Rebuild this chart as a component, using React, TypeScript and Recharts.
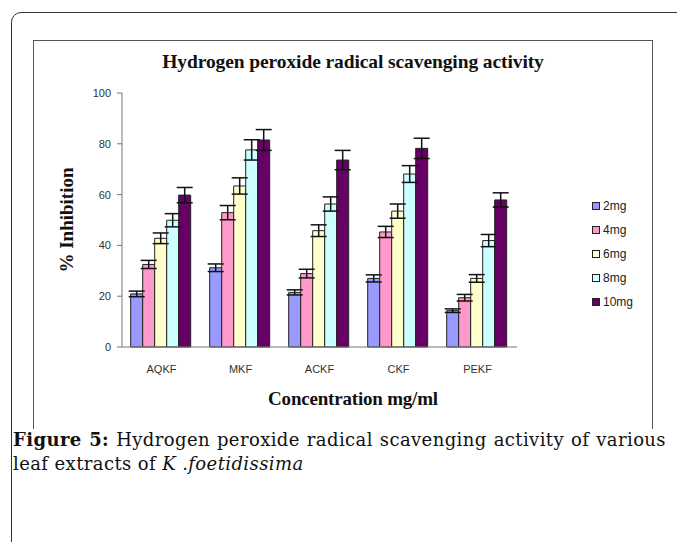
import React from 'react';
import { BarChart, Bar, XAxis, YAxis, ErrorBar, Legend } from 'recharts';

const categories = ['AQKF', 'MKF', 'ACKF', 'CKF', 'PEKF'];
const seriesNames = ['2mg', '4mg', '6mg', '8mg', '10mg'];
const seriesColors = ['#9999FF', '#FF99CC', '#FFFFCC', '#CCFFFF', '#660066'];

const values2mg = [20.9, 31.2, 21.5, 27.0, 14.3];
const values4mg = [32.5, 52.9, 28.9, 45.3, 19.4];
const values6mg = [42.8, 63.4, 45.8, 53.5, 27.0];
const values8mg = [49.9, 77.6, 56.3, 68.1, 41.9];
const values10mg = [59.8, 81.5, 73.6, 78.2, 57.9];

const errors2mg = [1.1, 1.5, 1.0, 1.4, 0.7];
const errors4mg = [1.6, 2.8, 1.7, 2.2, 1.3];
const errors6mg = [2.1, 3.2, 2.3, 2.8, 1.5];
const errors8mg = [2.6, 4.0, 2.8, 3.3, 2.4];
const errors10mg = [3.0, 4.1, 3.8, 4.0, 2.8];

const yTicks = [0, 20, 40, 60, 80, 100];

const allValues = [values2mg, values4mg, values6mg, values8mg, values10mg];
const allErrors = [errors2mg, errors4mg, errors6mg, errors8mg, errors10mg];

const data = categories.map((c, i) => {
  const row: Record<string, string | number> = { name: c };
  seriesNames.forEach((s, k) => {
    row[s] = allValues[k][i];
    row[s + '_err'] = allErrors[k][i];
  });
  return row;
});

const LegendContent = () => (
  <div style={{ fontFamily: 'Arial, "Liberation Sans", sans-serif', fontSize: 12, color: '#222' }}>
    {seriesNames.map((s, k) => (
      <div key={s} style={{ display: 'flex', alignItems: 'center', height: 24 }}>
        <span
          style={{
            display: 'inline-block',
            width: 6,
            height: 6,
            background: seriesColors[k],
            border: '1px solid #222',
            marginRight: 3,
          }}
        />
        <span>{s}</span>
      </div>
    ))}
  </div>
);

const serifBold: React.CSSProperties = {
  fontFamily: '"Liberation Serif", serif',
  fontWeight: 'bold',
  color: '#111',
  whiteSpace: 'nowrap',
};

export default function App() {
  return (
    <div style={{ position: 'absolute', left: 0, top: 0, width: 677, height: 542, overflow: 'hidden', background: '#fff' }}>
      {/* outer rounded frame */}
      <div
        style={{
          position: 'absolute',
          left: 11,
          top: 12,
          width: 720,
          height: 600,
          border: '1px solid #333',
          borderRadius: 10,
          boxSizing: 'border-box',
        }}
      />
      {/* inner chart frame */}
      <div
        style={{
          position: 'absolute',
          left: 33,
          top: 40,
          width: 620,
          height: 389,
          borderLeft: '1px solid #555',
          borderTop: '1px solid #555',
          borderRight: '1px solid #555',
          boxSizing: 'border-box',
        }}
      />
      <div
        style={{
          ...serifBold,
          position: 'absolute',
          left: 33,
          width: 640,
          top: 51,
          textAlign: 'center',
          fontSize: 19.5,
          letterSpacing: -0.1,
        }}
      >
        Hydrogen peroxide radical scavenging activity
      </div>
      <div style={{ position: 'absolute', left: 0, top: 0 }}>
        <BarChart
          width={677}
          height={542}
          data={data}
          margin={{ top: 93, right: 90, bottom: 165, left: 82 }}
          barCategoryGap="11%"
          barGap={0}
        >
          <XAxis
            dataKey="name"
            tickLine={false}
            tickSize={6}
            tickMargin={12}
            axisLine={{ stroke: '#777' }}
            tick={{ fontFamily: 'Arial, "Liberation Sans", sans-serif', fontSize: 11, fill: '#333' }}
            height={30}
          />
          <YAxis
            domain={[0, 100]}
            ticks={yTicks}
            width={40}
            tickSize={5}
            tickMargin={6}
            axisLine={{ stroke: '#777' }}
            tickLine={{ stroke: '#777' }}
            tick={{ fontFamily: 'Arial, "Liberation Sans", sans-serif', fontSize: 11, fill: '#333' }}
          />
          <Legend
            layout="vertical"
            align="right"
            verticalAlign="top"
            content={<LegendContent />}
            wrapperStyle={{ position: 'absolute', left: 592, top: 194, width: 70 }}
          />
          {seriesNames.map((s, k) => (
            <Bar key={s} dataKey={s} fill={seriesColors[k]} stroke="#222" strokeWidth={1} isAnimationActive={false}>
              <ErrorBar dataKey={s + '_err'} width={8} stroke="#111" strokeWidth={1.5} />
            </Bar>
          ))}
        </BarChart>
      </div>
      <div
        style={{
          ...serifBold,
          position: 'absolute',
          left: 67,
          top: 220,
          transform: 'translate(-50%, -50%) rotate(-90deg)',
          fontSize: 19,
        }}
      >
        % Inhibition
      </div>
      <div
        style={{
          ...serifBold,
          position: 'absolute',
          left: 33,
          width: 640,
          top: 388,
          textAlign: 'center',
          fontSize: 19,
          letterSpacing: -0.2,
        }}
      >
        Concentration mg/ml
      </div>
      <div
        style={{
          position: 'absolute',
          left: 13,
          top: 428,
          width: 653,
          fontFamily: '"DejaVu Serif", serif',
          fontSize: 18,
          letterSpacing: 0.4,
          lineHeight: '24px',
          color: '#111',
        }}
      >
        <div style={{ textAlign: 'justify', textAlignLast: 'justify', whiteSpace: 'nowrap' }}>
          <b>Figure 5:</b> Hydrogen peroxide radical scavenging activity of various
        </div>
        <div>
          leaf extracts of <i>K .foetidissima</i>
        </div>
      </div>
    </div>
  );
}
